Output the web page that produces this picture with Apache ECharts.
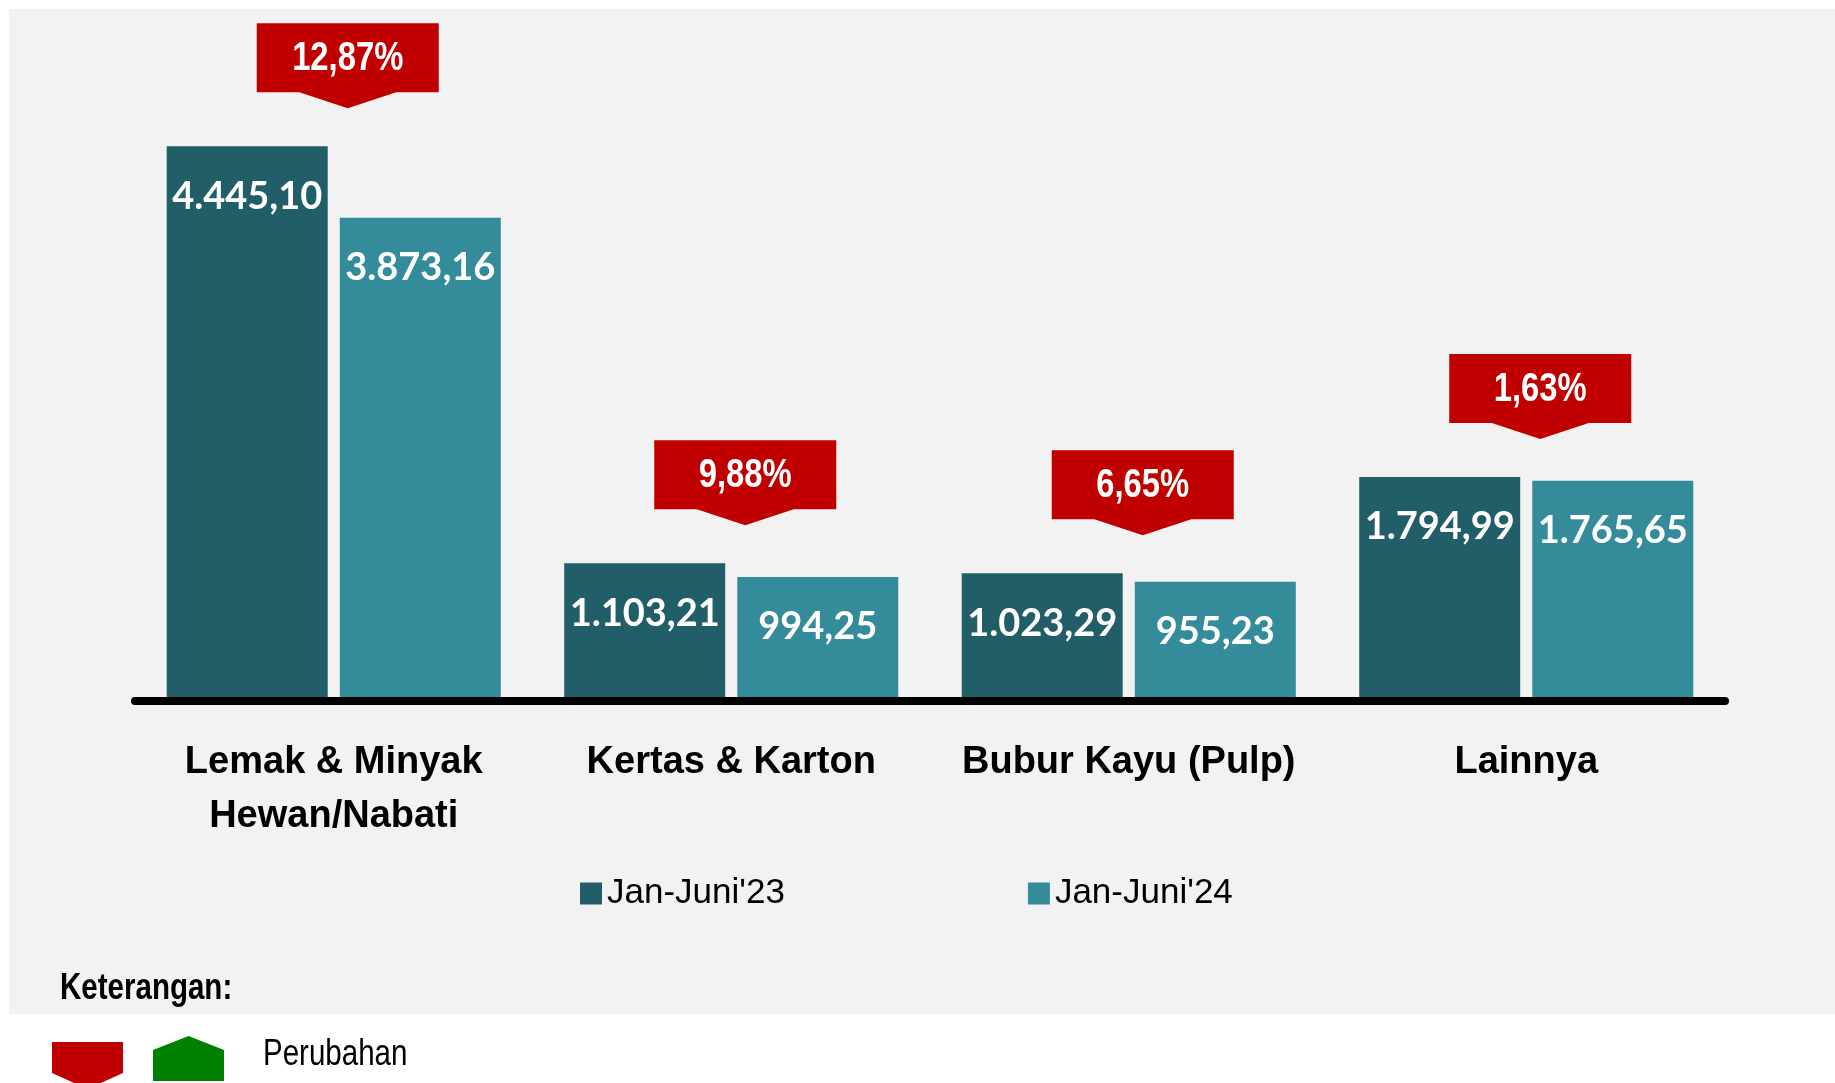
<!DOCTYPE html>
<html>
<head>
<meta charset="utf-8">
<title>Ekspor Jan-Juni</title>
<script src="https://cdn.jsdelivr.net/npm/echarts@6/dist/echarts.min.js"></script>
<style>
	html, body { margin: 0; padding: 0; background: #ffffff; }
	#wrap { position: relative; width: 1835px; height: 1083px; overflow: hidden; }
	#panel { position: absolute; left: 9px; top: 9px; width: 1826px; height: 1005px; background: #f2f2f2; }
	#chart { position: absolute; left: 0; top: 0; width: 1835px; height: 1083px; }
</style>
</head>
<body>
<div id="wrap">
	<div id="panel"></div>
	<div id="chart"></div>
</div>
<script>
var categories = ['Lemak & Minyak\nHewan/Nabati', 'Kertas & Karton', 'Bubur Kayu (Pulp)', 'Lainnya'];
var seriesNames = ["Jan-Juni'23", "Jan-Juni'24"];
var values23 = [4445.10, 1103.21, 1023.29, 1794.99];
var values24 = [3873.16, 994.25, 955.23, 1765.65];
var pctChange = [12.87, 9.88, 6.65, 1.63];

var sans = '"Liberation Sans", Arial, sans-serif';
var narrowScale = 0.82; // tiru Arial Narrow

// format angka gaya Indonesia: 4.445,10
function fmtId(v) {
	var p = v.toFixed(2).split('.');
	return p[0].replace(/\B(?=(\d{3})+(?!\d))/g, '.') + ',' + p[1];
}

// data untuk kotak perubahan (di atas batang tertinggi tiap kategori)
var calloutData = [];
for (var i = 0; i < categories.length; i++) {
	calloutData.push([i, Math.max(values23[i], values24[i]), pctChange[i]]);
}

function renderCallout(params, api) {
	var pt = api.coord([api.value(0), api.value(1)]);
	var cx = pt[0] + 14;
	var tipY = pt[1] - 38;
	var boxW = 182, boxH = 69, arrowW = 97, arrowH = 16;
	var bottom = tipY - arrowH;
	var top = bottom - boxH;
	var txt = api.value(2).toFixed(2).replace('.', ',') + '%';
	return {
		type: 'group',
		children: [{
			type: 'polygon',
			shape: {
				points: [
					[cx - boxW / 2, top], [cx + boxW / 2, top],
					[cx + boxW / 2, bottom], [cx + arrowW / 2, bottom],
					[cx, tipY], [cx - arrowW / 2, bottom],
					[cx - boxW / 2, bottom]
				]
			},
			style: { fill: '#c00000' }
		}, {
			type: 'text',
			x: cx,
			y: top + boxH / 2 + 1,
			scaleX: narrowScale,
			style: {
				text: txt,
				x: 0,
				y: 0,
				align: 'center',
				verticalAlign: 'middle',
				fill: '#ffffff',
				font: 'bold 40px ' + sans
			}
		}]
	};
}

var barLabel = {
	show: true,
	position: 'insideTop',
	distance: 31,
	color: '#ffffff',
	fontFamily: 'Lato, "Open Sans", sans-serif',
	fontWeight: 'bold',
	fontSize: 38,
	lineHeight: 38,
	formatter: function(p) { return fmtId(p.value); }
};

var myChart = echarts.init(document.getElementById('chart'), null, { renderer: 'canvas' });
var option = {
	backgroundColor: 'transparent',
	animation: false,
	grid: {
		left: 135,
		right: 110,
		top: 77,
		bottom: 382
	},
	legend: {
		data: seriesNames,
		left: 575,
		top: 871,
		itemWidth: 22,
		itemHeight: 22,
		itemGap: 243,
		icon: 'rect',
		textStyle: {
			fontFamily: sans,
			fontSize: 35,
			color: '#000000'
		}
	},
	xAxis: {
		type: 'category',
		data: categories,
		z: 5,
		axisLine: {
			show: true,
			lineStyle: { color: '#000000', width: 8 }
		},
		axisTick: { show: false },
		axisLabel: {
			interval: 0,
			margin: 35,
			color: '#000000',
			fontFamily: sans,
			fontWeight: 'bold',
			fontSize: 38,
			lineHeight: 54
		},
		splitLine: { show: false }
	},
	yAxis: {
		type: 'value',
		min: 0,
		max: 5000,
		show: false,
		splitLine: { show: false }
	},
	series: [{
		name: seriesNames[0],
		type: 'bar',
		data: values23,
		barWidth: 161,
		barGap: '7.5%',
		itemStyle: { color: '#225e68' },
		label: barLabel
	}, {
		name: seriesNames[1],
		type: 'bar',
		data: values24,
		barWidth: 161,
		barGap: '7.5%',
		itemStyle: { color: '#348c9a' },
		label: barLabel
	}, {
		name: 'perubahan',
		type: 'custom',
		data: calloutData,
		renderItem: renderCallout,
		z: 6,
		silent: true
	}],
	graphic: [{
		type: 'text',
		x: 60,
		y: 989,
		scaleX: narrowScale,
		style: {
			text: 'Keterangan:',
			x: 0,
			y: 0,
			verticalAlign: 'middle',
			fill: '#000000',
			font: 'bold 36px ' + sans
		}
	}, {
		// kotak merah (turun)
		type: 'polygon',
		shape: { points: [[52, 1042], [123, 1042], [123, 1073], [87.5, 1089], [52, 1073]] },
		style: { fill: '#c00000' }
	}, {
		// kotak hijau (naik)
		type: 'polygon',
		shape: { points: [[153, 1050], [188.5, 1036], [224, 1050], [224, 1081], [153, 1081]] },
		style: { fill: '#008000' }
	}, {
		type: 'text',
		x: 263,
		y: 1055,
		scaleX: narrowScale,
		style: {
			text: 'Perubahan',
			x: 0,
			y: 0,
			verticalAlign: 'middle',
			fill: '#000000',
			font: '36px ' + sans
		}
	}]
};
myChart.setOption(option);
</script>
</body>
</html>
